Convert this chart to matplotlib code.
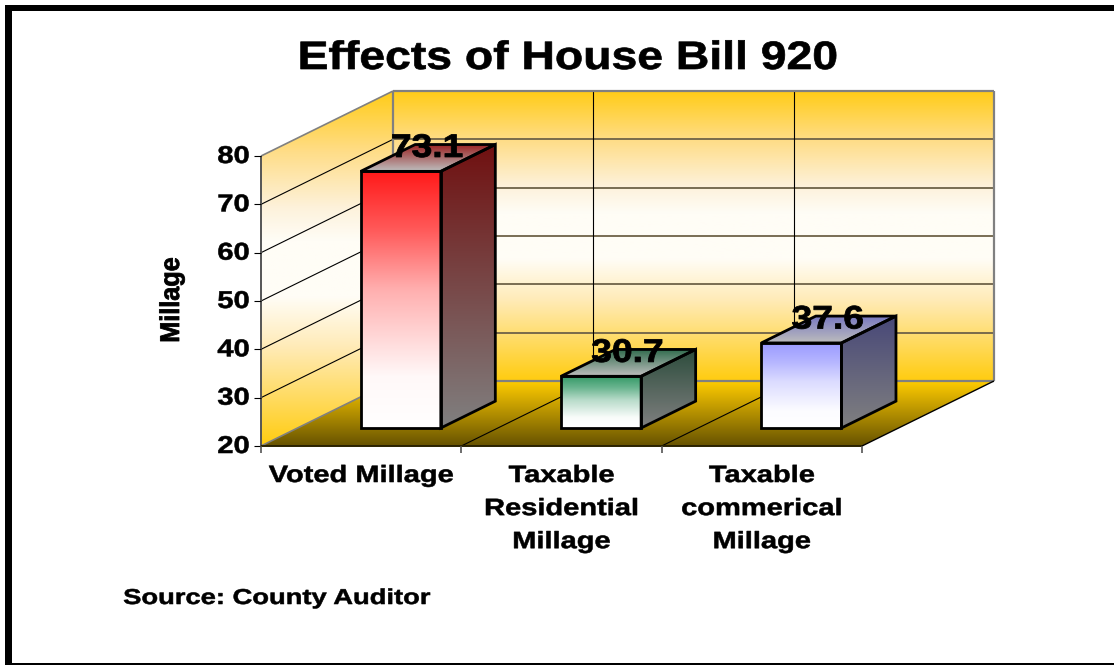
import numpy as np
import matplotlib
matplotlib.use('Agg')
import matplotlib.pyplot as plt
import matplotlib.patheffects as pe
from matplotlib.colors import LinearSegmentedColormap
from matplotlib.patches import Polygon, Rectangle
from matplotlib.transforms import Affine2D

categories = ['Voted Millage', 'Taxable\nResidential\nMillage', 'Taxable\ncommerical\nMillage']
values = [73.1, 30.7, 37.6]
y_ticks = [20, 30, 40, 50, 60, 70, 80]
bar_colors = ['#FF1A1A', '#339966', '#9999FF']
side_colors = ['#701010', '#2C4C3C', '#484878']
lid_colors = ['#9A2020', '#2F6B4C', '#7878C0']

plt.rcParams['font.family'] = ['Liberation Sans']
plt.rcParams['font.weight'] = 'bold'

# the 3d look: one category, one value and the full depth in screen pixels
X0, Y0 = 261, 446
CAT = 200.33
VAL = 4.833
DEPTH = (132, -65)
BAR_W = 0.40
BAR_MID = 0.515
D0, D1 = 0.277, 0.69


def proj(c, v, d=0.0):
    return (X0 + c * CAT + d * DEPTH[0], Y0 - (v - 20) * VAL + d * DEPTH[1])


class WideText(pe.AbstractPathEffect):
    # the original text is stretched sideways and a bit heavier than Liberation bold
    def __init__(self, sx, heavy=0.4):
        super().__init__()
        self.sx = sx
        self.heavy = heavy

    def draw_path(self, renderer, gc, tpath, affine, rgbFace=None):
        ext = tpath.get_extents()
        mid = (ext.x0 + ext.x1) / 2
        stretch = Affine2D().translate(-mid, 0).scale(self.sx, 1).translate(mid, 0)
        gc0 = renderer.new_gc()
        gc0.copy_properties(gc)
        gc0.set_linewidth(self.heavy)
        gc0.set_foreground('black')
        renderer.draw_path(gc0, tpath, stretch + affine, rgbFace)
        gc0.restore()


def gradient(ax, pts, stops, zorder):
    pts = np.array(pts)
    cmap = LinearSegmentedColormap.from_list('g', stops)
    im = ax.imshow(np.linspace(0, 1, 256)[:, None], cmap=cmap, vmin=0, vmax=1, aspect='auto',
                   interpolation='bilinear',
                   extent=(pts[:, 0].min(), pts[:, 0].max(), pts[:, 1].max(), pts[:, 1].min()), zorder=zorder)
    im.set_clip_path(Polygon(pts, transform=ax.transData))


def fade(color):
    # front of a bar: colour at the top, nearly white well before the bottom
    c = np.array(matplotlib.colors.to_rgb(color))
    stops = []
    for t, mix in [(0, 0), (0.23, 0.28), (0.46, 0.65), (0.8, 0.97), (1, 1)]:
        stops.append((t, tuple(c + (1 - c) * mix)))
    return stops


def line(ax, a, b, color='black', lw=0.8, zorder=3):
    ax.plot([a[0], b[0]], [a[1], b[1]], color=color, lw=lw, zorder=zorder, solid_capstyle='butt')


fig = plt.figure(figsize=(11.14, 6.65), dpi=100)
ax = fig.add_axes([0, 0, 1, 1])

wall_stops = [(0, '#FFCC18'), (0.17, '#FFDD88'), (0.33, '#FDF2DC'), (0.42, '#FFFDF6'), (0.58, '#FFFDF6'),
              (0.72, '#FFEBB8'), (1, '#FFCC10')]
n = len(categories)
top, low = y_ticks[-1], y_ticks[0]

# walls and floor
gradient(ax, [proj(0, low), proj(0, top), proj(0, top, 1), proj(0, low, 1)], wall_stops, 1)
gradient(ax, [proj(0, low, 1), proj(0, top, 1), proj(n, top, 1), proj(n, low, 1)], wall_stops, 1)
gradient(ax, [proj(0, low, 1), proj(n, low, 1), proj(n, low), proj(0, low)],
         [(0, '#FFCC00'), (1, '#665200')], 1)

# grid
for t in y_ticks[1:-1]:
    line(ax, proj(0, t), proj(0, t, 1))
    line(ax, proj(0, t, 1), proj(n, t, 1), color='#6E6248', lw=1.3)
for c in range(1, n):
    line(ax, proj(c, low), proj(c, low, 1))
    line(ax, proj(c, low, 1), proj(c, top, 1))

# outlines
gray = '#808080'
line(ax, proj(0, low, 1), proj(n, low, 1), color=gray, lw=1.6)
line(ax, proj(0, top, 1), proj(n, top, 1), color=gray, lw=1.6)
line(ax, proj(n, low, 1), proj(n, top, 1), color=gray, lw=1.6)
line(ax, proj(0, low, 1), proj(0, top, 1), color=gray, lw=1.6)
line(ax, proj(0, top), proj(0, top, 1), color=gray, lw=1.2)
line(ax, proj(0, low), proj(0, low, 1), color=gray, lw=1.2)
line(ax, proj(0, low), proj(0, top), color='#555555', lw=1.4)
line(ax, proj(n, low), proj(n, low, 1), lw=1.0)
line(ax, proj(0, low), proj(n, low), color='#2A2200', lw=1.4)

# axis ticks and labels
for t in y_ticks:
    a = proj(0, t)
    line(ax, (a[0] - 7, a[1]), a)
    ax.text(a[0] - 14, a[1] - 2, str(t), ha='right', va='center_baseline', fontsize=17.5, color='black',
            path_effects=[WideText(1.2)], zorder=6)
for c in range(n + 1):
    a = proj(c, low)
    line(ax, a, (a[0], a[1] + 7), color='#555555', lw=1.2)
for i, name in enumerate(categories):
    a = proj(i + 0.5, low)
    ax.text(a[0], a[1] + 18, name, ha='center', va='top', fontsize=17, color='black', linespacing=1.56,
            path_effects=[WideText(1.23)], zorder=6)

# bars
for i, v in enumerate(values):
    l, r = i + BAR_MID - BAR_W / 2, i + BAR_MID + BAR_W / 2
    front = [proj(l, low, D0), proj(l, v, D0), proj(r, v, D0), proj(r, low, D0)]
    side = [proj(r, low, D0), proj(r, v, D0), proj(r, v, D1), proj(r, low, D1)]
    lid = [proj(l, v, D0), proj(l, v, D1), proj(r, v, D1), proj(r, v, D0)]
    gradient(ax, front, fade(bar_colors[i]), 4)
    gradient(ax, side, [(0, side_colors[i]), (1, '#808080')], 4)
    gradient(ax, lid, [(0, lid_colors[i]), (1, '#BDBDBD')], 4)
    for pts in (front, side, lid):
        ax.add_patch(Polygon(pts, closed=True, fill=False, edgecolor='black', lw=2.0, zorder=5, joinstyle='miter'))
    mid = proj(i + BAR_MID, v, (D0 + D1) / 2)
    ax.text(mid[0] - 1, mid[1] - 1, f'{v}', ha='center', va='baseline', fontsize=23.5, color='black',
            path_effects=[WideText(1.14, 0.6)], zorder=7)

ax.text(568, 69, 'Effects of House Bill 920', ha='center', va='baseline', fontsize=28.5, color='black',
        path_effects=[WideText(1.17, 0.5)])
ax.text(172, 300, 'Millage', rotation=90, ha='center', va='center', fontsize=19.5, color='black',
        path_effects=[WideText(0.93, 0.6)])
ax.text(277, 604, 'Source: County Auditor', ha='center', va='baseline', fontsize=15.5, color='black',
        path_effects=[WideText(1.27)])

# frame, cut off by the right edge of the picture
for x, y, w, h in [(5, 5, 1109, 6), (5, 5, 7, 660), (5, 663, 1109, 2)]:
    ax.add_patch(Rectangle((x, y), w, h, facecolor='black', edgecolor='none', zorder=8))

ax.set_xlim(0, 1114)
ax.set_ylim(665, 0)
ax.axis('off')
fig.savefig('out.png', dpi=100)
